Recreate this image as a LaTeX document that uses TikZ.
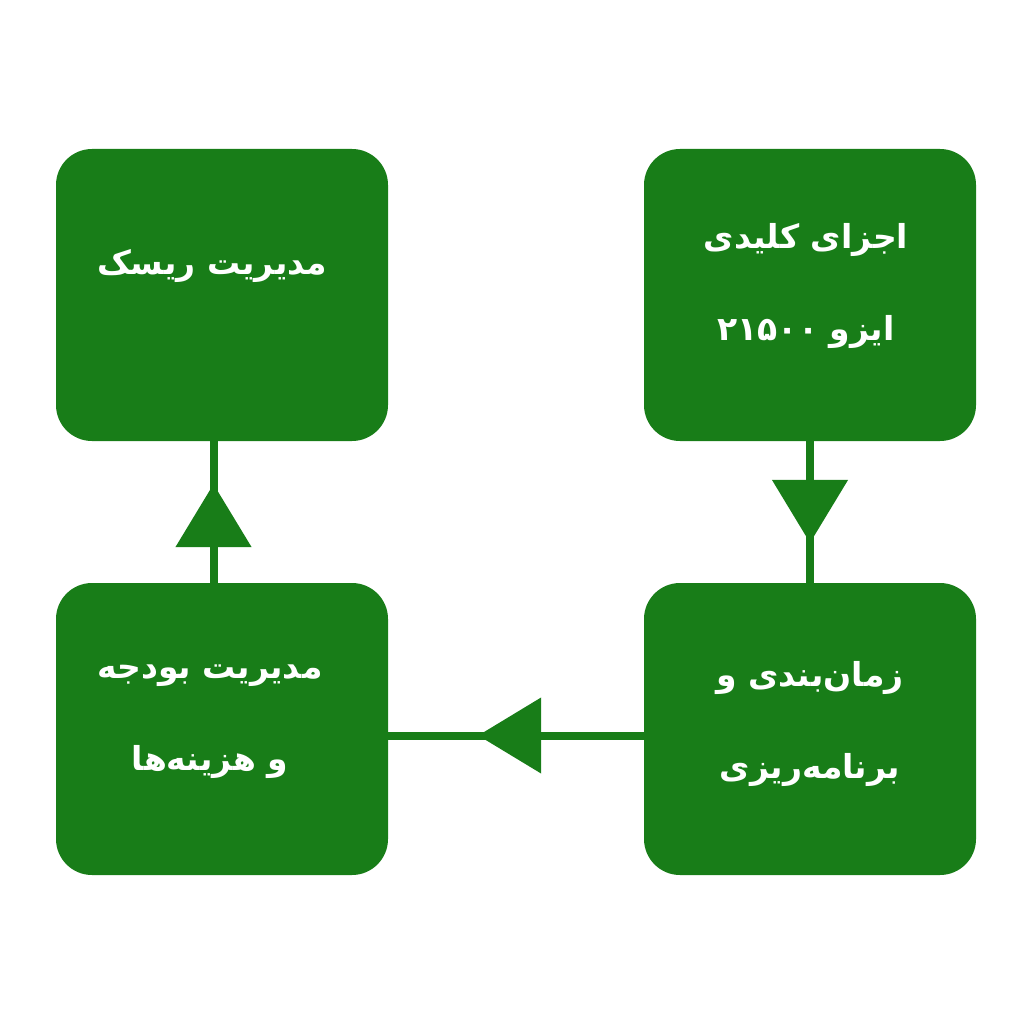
\documentclass[tikz,border=0pt]{standalone}
\usepackage{fontspec}
\newfontfamily\arabicfont[Script=Arabic]{DejaVu Sans}
\TeXXeTstate=1
\usetikzlibrary{positioning,arrows.meta,decorations.markings}
\definecolor{leafgreen}{RGB}{24,125,24}
\tikzstyle{block} = [fill=leafgreen, rectangle, rounded corners=36pt,
    minimum width=332pt, minimum height=292pt, inner sep=0pt, outer sep=0pt]
\tikzstyle{boxtext} = [text=white, align=center, inner sep=0pt,
    font=\arabicfont\bfseries\fontsize{33}{92}\selectfont]
\tikzstyle{flow} = [leafgreen, line width=8pt]
\tikzset{headat/.style={postaction={decorate}, decoration={markings,
    mark=at position #1 with {\arrow{Triangle[length=63pt,width=74pt]}}}}}

\begin{document}
\begin{tikzpicture}[x=1pt, y=1pt, node distance=256pt]
    \useasboundingbox (0,0) rectangle (1024,-1024);
    \node [block] at (810,-295) (iso) {};
    \node [block, left=of iso] (risk) {};
    \node [block, below=142pt of iso] (plan) {};
    \node [block, left=of plan] (budget) {};
    % texts
    \node [boxtext] at ([xshift=-4pt, yshift=-137pt]iso.north) (iso-t)
        {\beginR اجزای کلیدی\endR\\ \beginR ایزو \beginL۲۱۵۰۰\endL\endR};
    \node [boxtext] at ([xshift=-10pt, yshift=-117pt]risk.north) (risk-t)
        {\beginR مدیریت ریسک\endR};
    \node [boxtext] at ([xshift=-12pt, yshift=-139pt]budget.north) (budget-t)
        {\beginR مدیریت بودجه\endR\\ \beginR و هزینه‌ها\endR};
    \node [boxtext] at ([yshift=-141pt]plan.north) (plan-t)
        {\beginR زمان‌بندی و\endR\\ \beginR برنامه‌ریزی\endR};
    % connectors
    \draw [flow, headat=0.718] (iso.south) -- (plan.north);
    \draw [flow, headat=0.648] ([yshift=-6.5pt]plan.west) -- ([yshift=-6.5pt]budget.east);
    \draw [flow, headat=0.697] ([xshift=-8.5pt]budget.north) -- ([xshift=-8.5pt]risk.south);
\end{tikzpicture}
\end{document}
